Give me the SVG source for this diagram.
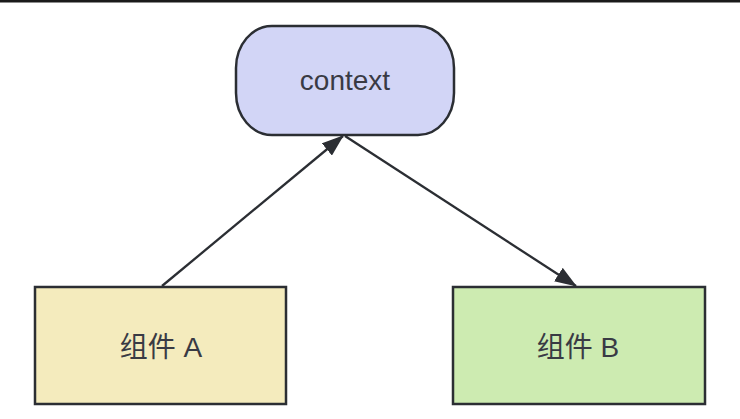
<svg xmlns="http://www.w3.org/2000/svg" width="740" height="419" viewBox="0 0 740 419">
<style>
.n{stroke:#2b2e33;stroke-width:2.5}
.t{font-family:"Liberation Sans","Noto Sans CJK SC",sans-serif;font-size:28px;fill:#393a44;text-anchor:middle}
.e{stroke:#2b2e33;stroke-width:2.3;fill:none}
</style>
<defs>
<marker id="ah" viewBox="0 0 22 16" refX="21" refY="8" markerWidth="22" markerHeight="16" markerUnits="userSpaceOnUse" orient="auto">
<path d="M0,0 L22,8 L0,16 z" fill="#2b2e33"/>
</marker>
</defs>
<rect x="0" y="0" width="740" height="419" fill="#ffffff"/>
<rect x="0" y="0" width="740" height="2.5" fill="#1a1a1a"/>
<g id="context">
<rect class="n" x="236" y="26" width="218" height="109" rx="36" ry="42" fill="#d2d5f6"/>
<text class="t" x="345" y="90">context</text>
</g>
<g id="compA">
<rect class="n" x="35" y="287" width="251" height="117" fill="#f4ebbd"/>
<text class="t" x="161" y="357">组件 A</text>
</g>
<g id="compB">
<rect class="n" x="453" y="287" width="252" height="117" fill="#cdebb1"/>
<text class="t" x="578" y="357">组件 B</text>
</g>
<g id="edges">
<line class="e" x1="162" y1="286" x2="343" y2="136" marker-end="url(#ah)"/>
<line class="e" x1="345" y1="136" x2="576" y2="286" marker-end="url(#ah)"/>
</g>
</svg>
